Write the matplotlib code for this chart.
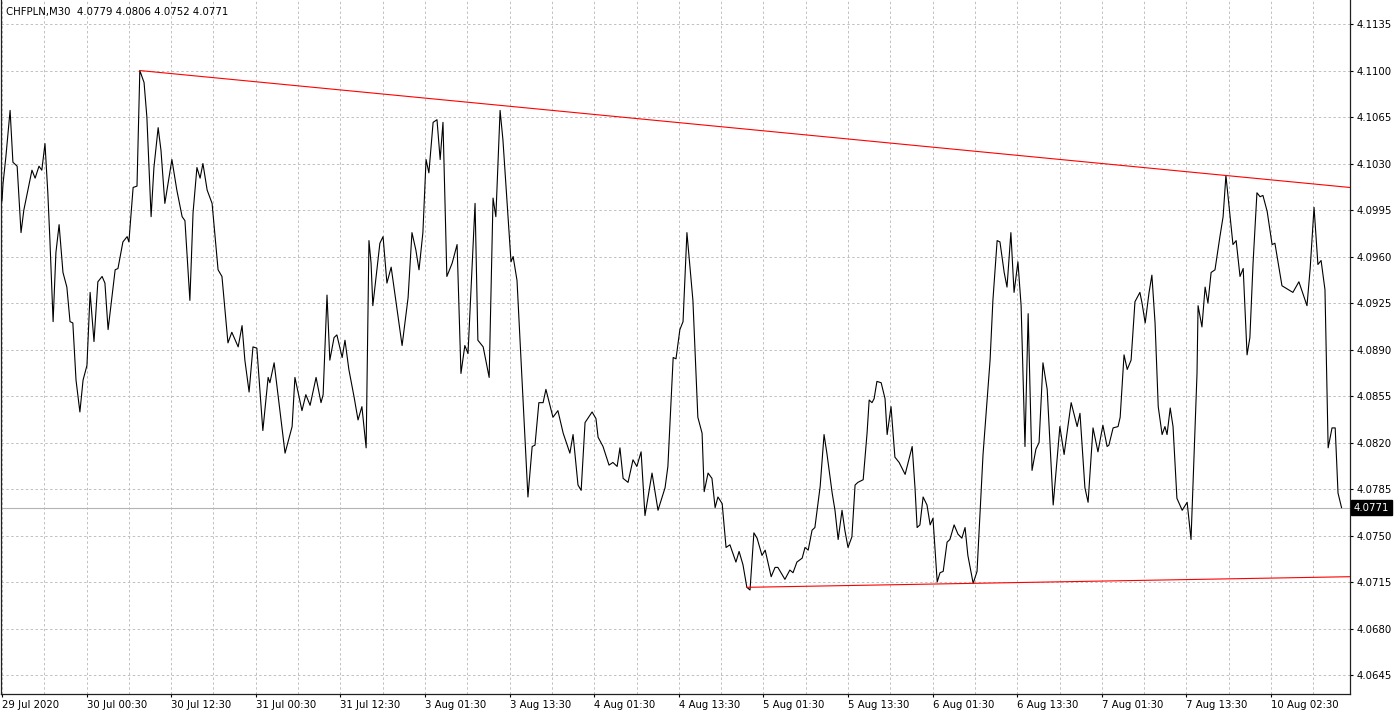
import numpy as np
import matplotlib
matplotlib.use('Agg')
import matplotlib.pyplot as plt
from matplotlib.ticker import FixedLocator
import matplotlib.transforms as mtransforms

plt.rcParams['font.family'] = 'DejaVu Sans'

symbol = 'CHFPLN,M30'
ohlc = [4.0779, 4.0806, 4.0752, 4.0771]

# bar number (M30 bars from the left edge) and close price at each turning point
bars = [0.0, 0.3, 1.1, 2.3, 3.1, 4.3, 5.4, 6.2, 8.5, 9.4, 10.5, 11.3, 12.2, 13.0, 13.6, 14.5,
        15.3, 16.2, 17.3, 18.4, 19.3, 20.1, 21.0, 22.1, 23.0, 24.1, 25.0, 26.1, 27.2, 28.4,
        29.2, 30.1, 32.1, 32.9, 34.3, 35.5, 36.0, 37.2, 38.3, 39.1, 40.3, 41.1, 42.3, 43.1,
        44.3, 45.1, 46.2, 48.2, 49.6, 51.1, 51.9, 53.3, 54.2, 55.3, 56.2, 57.0, 58.2, 59.6,
        61.3, 62.4, 64.1, 65.2, 67.0, 68.1, 68.9, 70.1, 71.2, 72.3, 74.0, 75.5, 76.0, 77.2,
        80.3, 82.3, 83.1, 85.1, 86.2, 87.4, 89.1, 90.5, 91.1, 92.2, 93.0, 94.2, 95.0, 96.5,
        97.3, 98.4, 99.9, 101.0, 102.1, 103.3, 103.8, 104.1, 104.7, 105.2, 107.2, 108.1,
        109.2, 110.4, 113.5, 115.2, 116.3, 117.4, 118.3, 119.4, 120.3, 121.1, 122.3, 123.4,
        124.3, 125.1, 126.2, 127.7, 129.1, 130.2, 131.3, 132.2, 134.2, 135.0, 136.5, 138.2,
        139.3, 140.1, 141.3, 142.1, 144.4, 145.0, 146.1, 149.2, 150.4, 151.2, 152.3, 153.5,
        154.3, 156.3, 157.7, 159.2, 161.1, 162.0, 163.4, 164.3, 165.4, 167.4, 168.5, 169.1,
        170.5, 172.2, 173.3, 174.5, 175.3, 176.2, 177.6, 179.0, 180.1, 181.3, 182.4, 184.4,
        186.1, 188.1, 188.9, 190.4, 191.2, 192.3, 193.2, 194.3, 196.0, 197.4, 198.6, 199.2,
        200.3, 201.4, 202.3, 203.1, 204.3, 205.4, 206.5, 208.2, 209.1, 210.2, 211.3, 212.2,
        213.3, 214.2, 215.6, 216.5, 218.2, 219.3, 220.1, 222.1, 223.5, 224.4, 225.5, 227.0,
        227.8, 228.7, 229.8, 230.6, 232.1, 233.2, 234.0, 235.5, 236.3, 237.2, 238.3, 239.1,
        240.0, 241.1, 242.0, 242.8, 244.3, 245.4, 246.0, 246.8, 247.4, 248.2, 249.4, 250.5,
        251.1, 252.2, 253.3, 254.5, 256.2, 258.2, 259.0, 259.6, 260.4, 261.3, 262.4, 263.3,
        264.1, 265.3, 266.1, 267.0, 268.1, 268.9, 270.1, 271.2, 272.3, 273.2, 274.0, 275.5,
        276.6, 278.3, 280.3, 281.1, 282.3, 283.1, 284.3, 285.1, 286.2, 287.1, 288.2, 289.1,
        290.2, 291.1, 292.2, 293.3, 294.2, 295.3, 296.5, 298.2, 300.1, 301.3, 303.3, 305.0,
        305.8, 307.2, 308.1, 309.5, 310.9, 312.3, 313.5, 314.0, 315.2, 316.6, 317.2, 318.3,
        319.2, 320.3, 321.4, 322.8, 323.4, 324.3, 325.4, 326.2, 327.1, 328.0, 329.1, 329.9,
        330.5, 331.4, 332.2, 333.3, 334.8, 336.2, 337.3, 339.0, 339.3, 340.4, 341.3, 342.1,
        343.0, 344.1, 345.5, 346.4, 347.2, 349.2, 350.1, 351.2, 352.1, 353.2, 354.0, 354.9,
        356.0, 356.9, 357.7, 358.9, 360.3, 361.1, 363.1, 366.2, 367.9, 370.2, 371.1, 372.2,
        373.3, 374.2, 375.3, 376.2, 377.3, 378.2, 379.0, 380.0]

prices = [4.1002, 4.1015, 4.1035, 4.1070, 4.1031, 4.1028, 4.0978, 4.0995, 4.1025, 4.1019,
          4.1028, 4.1025, 4.1045, 4.1008, 4.0972, 4.0911, 4.0963, 4.0984, 4.0948, 4.0937,
          4.0911, 4.0910, 4.0867, 4.0843, 4.0867, 4.0878, 4.0933, 4.0896, 4.0941, 4.0945,
          4.0940, 4.0905, 4.0950, 4.0951, 4.0971, 4.0975, 4.0971, 4.1012, 4.1013, 4.1100,
          4.1091, 4.1065, 4.0990, 4.1027, 4.1057, 4.1040, 4.1000, 4.1033, 4.1010, 4.0990,
          4.0987, 4.0927, 4.0993, 4.1027, 4.1019, 4.1030, 4.1010, 4.1000, 4.0950, 4.0945,
          4.0895, 4.0903, 4.0892, 4.0908, 4.0882, 4.0858, 4.0892, 4.0891, 4.0829, 4.0869,
          4.0865, 4.0880, 4.0812, 4.0832, 4.0869, 4.0844, 4.0856, 4.0848, 4.0869, 4.0850,
          4.0856, 4.0931, 4.0882, 4.0899, 4.0901, 4.0884, 4.0897, 4.0875, 4.0854, 4.0837,
          4.0847, 4.0816, 4.0917, 4.0972, 4.0955, 4.0923, 4.0970, 4.0975, 4.0940, 4.0952,
          4.0893, 4.0929, 4.0978, 4.0965, 4.0950, 4.0978, 4.1033, 4.1023, 4.1061, 4.1063,
          4.1033, 4.1061, 4.0945, 4.0955, 4.0969, 4.0872, 4.0893, 4.0887, 4.1000, 4.0897,
          4.0892, 4.0869, 4.1004, 4.0990, 4.1070, 4.1048, 4.0956, 4.0960, 4.0942, 4.0779,
          4.0817, 4.0818, 4.0850, 4.0850, 4.0860, 4.0839, 4.0844, 4.0827, 4.0812, 4.0826,
          4.0788, 4.0784, 4.0835, 4.0843, 4.0838, 4.0824, 4.0817, 4.0803, 4.0805, 4.0802,
          4.0816, 4.0793, 4.0790, 4.0807, 4.0802, 4.0813, 4.0765, 4.0797, 4.0769, 4.0786,
          4.0802, 4.0884, 4.0883, 4.0905, 4.0911, 4.0978, 4.0927, 4.0839, 4.0827, 4.0783,
          4.0797, 4.0793, 4.0771, 4.0779, 4.0774, 4.0741, 4.0743, 4.0730, 4.0738, 4.0728,
          4.0711, 4.0709, 4.0752, 4.0748, 4.0735, 4.0739, 4.0719, 4.0726, 4.0726, 4.0717,
          4.0724, 4.0722, 4.0730, 4.0733, 4.0741, 4.0739, 4.0754, 4.0756, 4.0787, 4.0826,
          4.0812, 4.0782, 4.0769, 4.0747, 4.0769, 4.0754, 4.0741, 4.0749, 4.0788, 4.0790,
          4.0792, 4.0827, 4.0852, 4.0850, 4.0853, 4.0866, 4.0865, 4.0853, 4.0826, 4.0847,
          4.0809, 4.0805, 4.0796, 4.0817, 4.0786, 4.0756, 4.0758, 4.0779, 4.0773, 4.0758,
          4.0763, 4.0715, 4.0722, 4.0723, 4.0745, 4.0747, 4.0758, 4.0751, 4.0748, 4.0756,
          4.0735, 4.0714, 4.0723, 4.0811, 4.0882, 4.0927, 4.0972, 4.0971, 4.0948, 4.0937,
          4.0978, 4.0933, 4.0956, 4.0923, 4.0817, 4.0917, 4.0799, 4.0815, 4.0820, 4.0880,
          4.0860, 4.0773, 4.0832, 4.0811, 4.0850, 4.0832, 4.0842, 4.0786, 4.0775, 4.0831,
          4.0813, 4.0833, 4.0817, 4.0818, 4.0831, 4.0832, 4.0839, 4.0886, 4.0875, 4.0882,
          4.0926, 4.0933, 4.0925, 4.0910, 4.0933, 4.0946, 4.0910, 4.0847, 4.0826, 4.0832,
          4.0826, 4.0846, 4.0832, 4.0778, 4.0769, 4.0775, 4.0747, 4.0872, 4.0923, 4.0907,
          4.0937, 4.0925, 4.0948, 4.0950, 4.0975, 4.0990, 4.1021, 4.0969, 4.0972, 4.0945,
          4.0951, 4.0886, 4.0899, 4.0955, 4.1008, 4.1005, 4.1006, 4.0994, 4.0969, 4.0970,
          4.0938, 4.0933, 4.0941, 4.0923, 4.0951, 4.0997, 4.0954, 4.0957, 4.0935, 4.0816,
          4.0831, 4.0831, 4.0782, 4.0771]

# trend lines: two anchor points each (bar, price), drawn as rays to the right
upper_anchor = [(39.1, 4.1100), (347.2, 4.1021)]
lower_anchor = [(211.3, 4.0711), (275.5, 4.0714)]

price_ticks = [4.0645, 4.0680, 4.0715, 4.0750, 4.0785, 4.0820, 4.0855, 4.0890,
               4.0925, 4.0960, 4.0995, 4.1030, 4.1065, 4.1100, 4.1135]
date_ticks = [0, 24, 48, 72, 96, 120, 144, 168, 192, 216, 240, 264, 288, 312, 336, 360]
date_labels = ['29 Jul 2020', '30 Jul 00:30', '30 Jul 12:30', '31 Jul 00:30', '31 Jul 12:30',
               '3 Aug 01:30', '3 Aug 13:30', '4 Aug 01:30', '4 Aug 13:30', '5 Aug 01:30',
               '5 Aug 13:30', '6 Aug 01:30', '6 Aug 13:30', '7 Aug 01:30', '7 Aug 13:30',
               '10 Aug 02:30']

x_min, x_max = -0.28, 382.4
y_min, y_max = 4.06307, 4.11531

fig = plt.figure(figsize=(14, 7.16), dpi=100)
ax = fig.add_axes([1 / 1400, 22 / 716, 1349 / 1400, 694 / 716])
ax.set_xlim(x_min, x_max)
ax.set_ylim(y_min, y_max)

ax.plot(bars, prices, color='black', lw=0.8, zorder=3)

def ray(anchor):
    (x0, p0), (x1, p1) = anchor
    slope = (p1 - p0) / (x1 - x0)
    return [x0, x_max], [p0, p0 + slope * (x_max - x0)]

ux, uy = ray(upper_anchor)
lx, ly = ray(lower_anchor)
ax.plot(ux, uy, color='#ff0000', lw=0.8, zorder=4)
ax.plot(lx, ly, color='#ff0000', lw=0.8, zorder=4)

last = ohlc[3]
ax.axhline(last, color='#b4b4b4', lw=0.8, zorder=2)

ax.yaxis.tick_right()
ax.set_yticks(price_ticks)
ax.set_yticklabels(['%.4f' % p for p in price_ticks])
ax.set_xticks(date_ticks)
ax.set_xticklabels(date_labels, ha='left')
ax.xaxis.set_minor_locator(FixedLocator([t + 12 for t in date_ticks]))
ax.tick_params(axis='both', which='major', labelsize=7.3, colors='black',
               length=2.5, width=0.8, direction='out')
ax.tick_params(axis='x', which='major', pad=1.5)
ax.tick_params(axis='y', which='major', pad=2)
ax.tick_params(axis='x', which='minor', length=0)

ax.grid(True, which='both', axis='x', color='#c0c0c0', lw=0.7, ls=(0, (2.5, 2.5)))
ax.grid(True, which='major', axis='y', color='#c0c0c0', lw=0.7, ls=(0, (2.5, 2.5)))
ax.set_axisbelow(True)

for side in ['left', 'right', 'bottom']:
    ax.spines[side].set_color('#202020')
    ax.spines[side].set_linewidth(0.9)
ax.spines['top'].set_visible(False)

trans = mtransforms.blended_transform_factory(ax.transAxes, ax.transData)
ax.text(1.0028, last, '%.4f' % last, transform=trans, fontsize=7.3, color='white',
        va='center', ha='left', zorder=5,
        bbox=dict(boxstyle='square,pad=0.25', facecolor='black', edgecolor='black'))

fig.text(6 / 1400, 1 - 12 / 716, symbol + '  ' + ' '.join('%.4f' % v for v in ohlc),
         fontsize=7.3, color='black', va='center', ha='left')

fig.savefig('out.png', dpi=100, facecolor='white')
